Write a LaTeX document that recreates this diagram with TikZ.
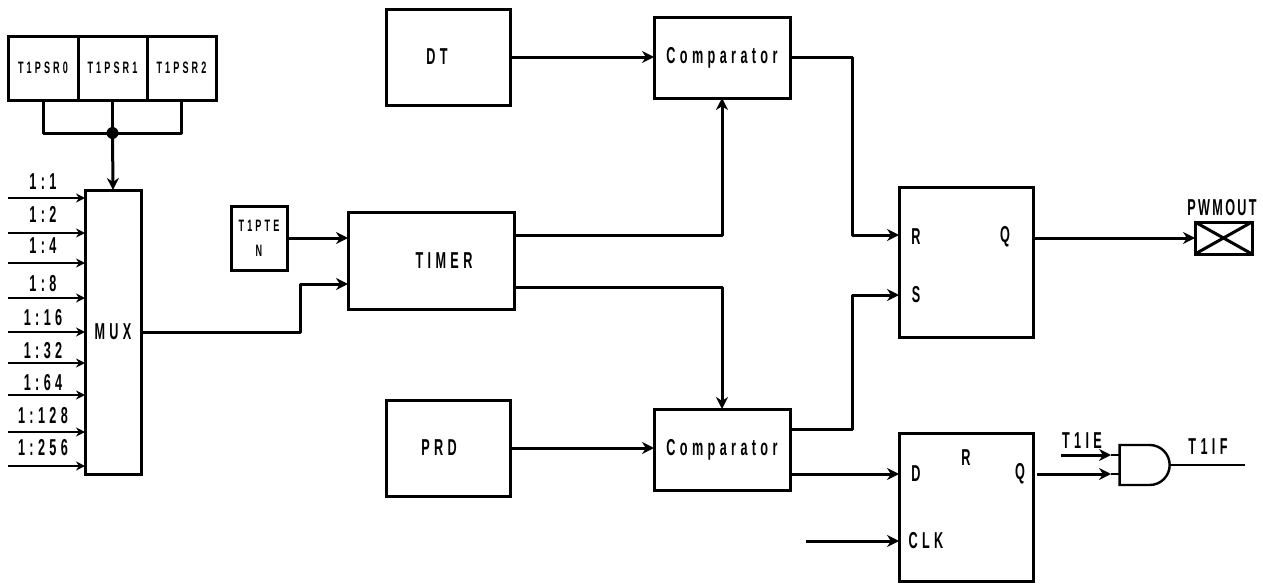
\documentclass[tikz,border=0pt]{standalone}
\usepackage{fontspec}
\setmainfont{Liberation Sans Bold}[FakeStretch=0.55,LetterSpace=19]
\newfontfamily\padfont{Liberation Sans Bold}[FakeStretch=0.55,LetterSpace=10]
\usetikzlibrary{arrows.meta,shapes.gates.logic.US}
\tikzset{
    block/.style = {draw, line width=3pt, fill=white, inner sep=0pt, outer sep=0pt, align=center, font=\fontsize{23}{25}\selectfont},
    small/.style = {font=\fontsize{16.5}{25}\selectfont},
    wire/.style = {line width=3pt, line join=round, -{Stealth[length=12pt,width=12pt]}},
    thinwire/.style = {line width=2pt, -{Stealth[length=9pt,width=9pt]}},
    tag/.style = {inner sep=0pt, font=\fontsize{23}{25}\selectfont}
}
\begin{document}
\begin{tikzpicture}[x=1pt,y=-1pt]
    \useasboundingbox (0,0) rectangle (1263,584);
    % Prescaler bits
    \node[block,small,minimum width=70pt,minimum height=64pt] (psrzero) at (43,68) {T1PSR0};
    \node[block,small,minimum width=69pt,minimum height=64pt] (psrone) at (112.5,68) {T1PSR1};
    \node[block,small,minimum width=69pt,minimum height=64pt] (psrtwo) at (181.5,68) {T1PSR2};
    \node[circle,fill,inner sep=0pt,minimum size=12pt] (bus) at (112.5,133) {};
    \draw[line width=3pt,line join=round] (psrzero.south) |- (bus.center) -| (psrtwo.south);
    \draw[line width=3pt] (psrone.south) -- (bus.center);
    % Blocks
    \node[block,minimum width=56pt,minimum height=284pt] (mux) at (113,332) {MUX};
    \node[block,small,minimum width=56pt,minimum height=64pt] (pten) at (259,238) {T1PTE\\N};
    \node[block,minimum width=166pt,minimum height=97pt] (timer) at (431,260.5) {\hspace*{26pt}TIMER};
    \node[block,minimum width=124pt,minimum height=96pt] (dt) at (448,57) {DT\hspace*{22pt}};
    \node[block,minimum width=124pt,minimum height=96pt] (prd) at (448,448) {PRD\hspace*{18pt}};
    \node[block,minimum width=136pt,minimum height=81pt] (cmpa) at (722,57.5) {Comparator};
    \node[block,minimum width=136pt,minimum height=81pt] (cmpb) at (722,449.5) {Comparator};
    \node[block,minimum width=134pt,minimum height=150pt] (rs) at (966,262) {};
    \node[block,minimum width=134pt,minimum height=148pt] (dff) at (966,507) {};
    \node[block,minimum width=57pt,minimum height=32pt] (pwm) at (1223.5,238) {};
    % Flip-flop pins
    \node[tag] (rsr) at (916,237) {R};
    \node[tag] (rss) at (916,295) {S};
    \node[tag] (rsq) at (1005,237) {Q};
    \node[tag] (dffd) at (916,474) {D};
    \node[tag] (dffr) at (966,458) {R};
    \node[tag] (dffq) at (1020,474) {Q};
    \node[tag] (dffclk) at (926,541) {CLK};
    % Output pad
    \draw[line width=3pt] (pwm.north west) -- (pwm.south east);
    \draw[line width=3pt] (pwm.south west) -- (pwm.north east);
    \node[tag] (pwmtxt) at (1222,208) {\padfont PWMOUT};
    % Inputs of the mux
    \foreach \name/\y/\ty/\txt in {a/198/182/1:1,b/233/214/1:2,c/263/246/1:4,d/298/284/1:8,e/332/318/1:16,f/363/351/1:32,g/395/383/1:64,h/432/416/1:128,i/466/448/1:256}
    {
        \coordinate (in\name) at (8,\y);
        \draw[thinwire] (in\name) -- (in\name -| mux.west);
        \node[tag] (rate\name) at (43,\ty) {\txt};
    }
    % Connections
    \draw[wire] (bus.center) -- (mux.north);
    \draw[wire] (pten.east) -- (pten.east -| timer.west);
    \draw[wire] (mux.east) -- (300,332) |- ([yshift=-23.5pt]timer.west);
    \draw[wire] ([yshift=25.5pt]timer.east) -| (cmpa.south);
    \draw[wire] ([yshift=-26.5pt]timer.east) -| (cmpb.north);
    \draw[wire] (dt.east) -- (dt.east -| cmpa.west);
    \draw[wire] (prd.east) -- (prd.east -| cmpb.west);
    \draw[wire] (cmpa.east) -- (852,57.5) |- ([yshift=27pt]rs.west);
    \draw[wire] ([yshift=20.5pt]cmpb.east) -- (852,429) |- (rss.west -| rs.west);
    \draw[wire] (rs.east |- pwm.west) -- (pwm.west);
    \draw[wire] (cmpb.east |- dffd.west) -- (dffd.west -| dff.west);
    \coordinate (clkin) at (806,541);
    \draw[wire] (clkin) -- (clkin -| dff.west);
    % AND gate
    \node[and gate US,draw,logic gate inputs=nn,line width=2.4pt,inner sep=0pt,outer sep=0pt,minimum width=40pt,minimum height=40pt] (andg) at (1143,465) {};
    \coordinate (iein) at (1061,455);
    \coordinate (qin) at (1037,474);
    \coordinate (ieend) at (1111,455);
    \coordinate (qend) at (1111,474);
    \draw[wire] (iein) -- (ieend);
    \draw[wire] (qin) -- (qend);
    \draw[line width=2.4pt] (ieend) -- (ieend -| andg.west);
    \draw[line width=2.4pt] (qend) -- (qend -| andg.west);
    \coordinate (ifout) at (1245,465);
    \draw[line width=2.4pt] (andg.east) -- (ifout);
    \node[tag] (ietxt) at (1082,441) {T1IE};
    \node[tag] (iftxt) at (1208,447) {T1IF};
\end{tikzpicture}
\end{document}
